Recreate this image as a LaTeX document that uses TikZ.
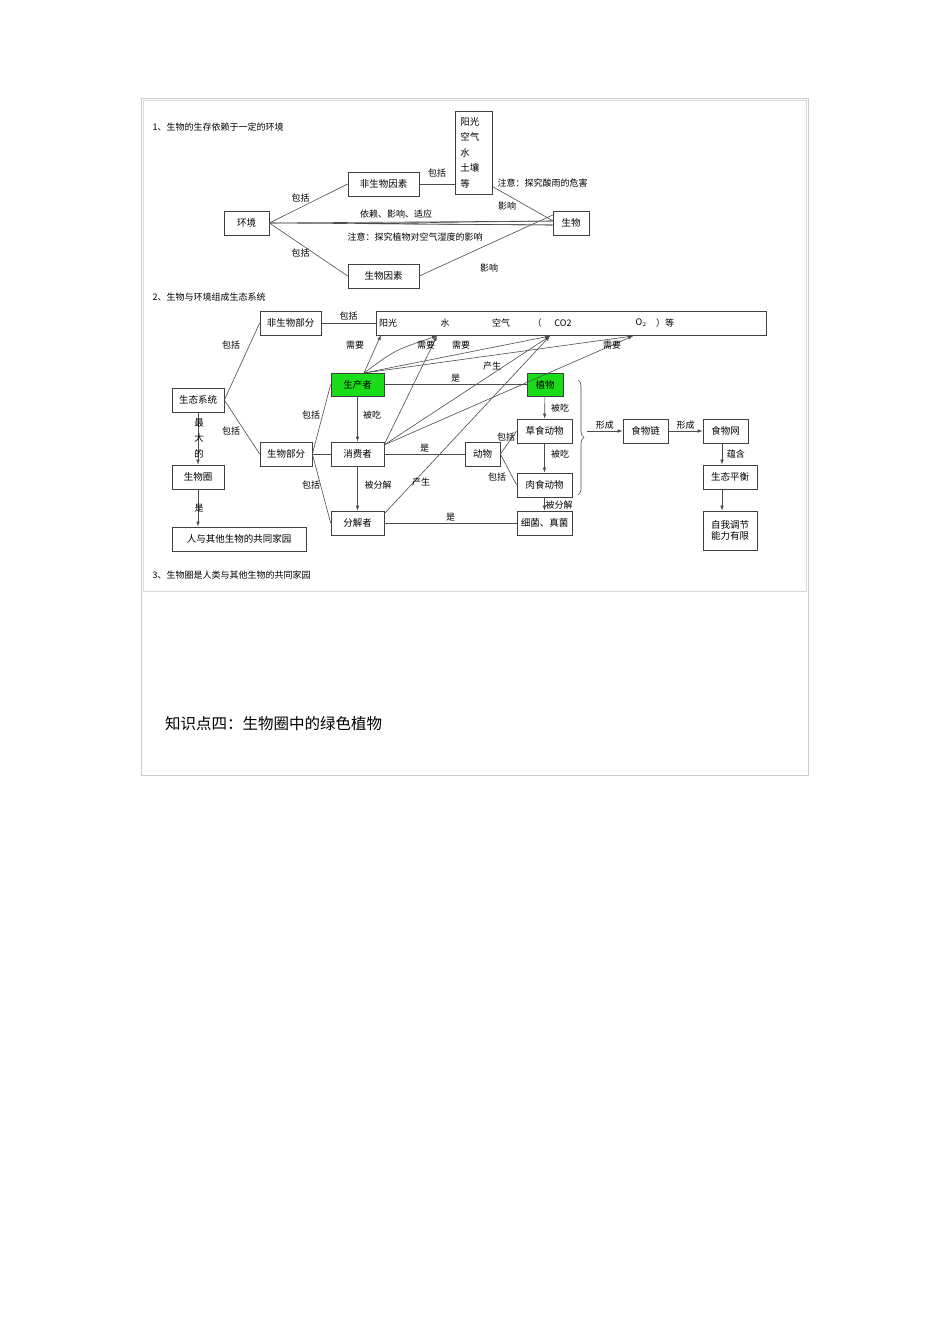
\documentclass[tikz,border=0pt]{standalone}
\usepackage{fontspec}
\setmainfont{Noto Sans CJK SC}
\usetikzlibrary{arrows.meta,decorations.pathreplacing}
\begin{document}
\begin{tikzpicture}[x=1pt,y=-1pt,
 bx/.style={draw=black!75,line width=0.7pt,fill=white,inner sep=0pt,font=\fontsize{9.5}{11}\selectfont},
 gbx/.style={bx,fill=green!85!black!90},
 lb/.style={font=\fontsize{9}{10}\selectfont,inner sep=0.5pt},
 ln/.style={draw=black!70,line width=0.6pt},
 ar/.style={ln,-{Latex[length=5pt,width=3.5pt]}}]
\useasboundingbox (0,0) rectangle (950,1344);
\fill[white] (0,0) rectangle (950,1344);
\draw[black!20,line width=0.8pt] (141,98) rectangle (808,775);
\draw[black!15,line width=0.6pt] (143,100) -- (806,100) -- (806,591) -- (143,591) -- cycle;
% section 1
\node[lb,anchor=west] (t1) at (152,127) {1、生物的生存依赖于一定的环境};
\node[bx,minimum width=37,minimum height=83,anchor=north west,align=left,text width=27,font=\fontsize{9.5}{15.5}\selectfont] (ygk) at (455,111) {阳光\\空气\\水\\土壤\\等};
\node[bx,minimum width=71,minimum height=24] (fsw) at (383.5,184) {非生物因素};
\node[bx,minimum width=45,minimum height=24] (hj) at (246.5,223) {环境};
\node[bx,minimum width=36,minimum height=24] (sw) at (571,223) {生物};
\node[bx,minimum width=71,minimum height=24] (swys) at (383.5,276) {生物因素};
\draw[ln] (hj.east) -- (fsw.west) node[lb,pos=0.4,above=4pt] (l1) {包括};
\draw[ln] (hj.east) -- (swys.west) node[lb,pos=0.4,below=4pt] (l2) {包括};
\draw[ln] (fsw.east) -- (ygk.west|-fsw.east) node[lb,midway,above=6pt] (l3) {包括};
\draw[ln] (ygk.south east) ++(0,-8) coordinate (c1) -- ([yshift=-10pt]sw.north west) coordinate (c2);
\node[lb] (l4) at (507,206) {影响};
\node[lb,anchor=west] (l5) at (497,183) {注意：探究酸雨的危害};
\draw[ln] (hj.east) -- ([yshift=-2pt]sw.west);
\draw[ln] (hj.east) -- ([yshift=2pt]sw.west);
\draw[ln] ([yshift=-2pt]sw.west) -- (355,223.5) -- ([yshift=2pt]sw.west);
\node[lb] (l6) at (396,214) {依赖、影响、适应};
\node[lb] (l7) at (415,237) {注意：探究植物对空气湿度的影响};
\draw[ln] (swys.east) -- ([yshift=8pt]sw.west);
\node[lb] (l8) at (489,268) {影响};
% section 2
\node[lb,anchor=west] (t2) at (152,297) {2、生物与环境组成生态系统};
\node[bx,minimum width=61,minimum height=24] (fswbf) at (290.5,323) {非生物部分};
\node[bx,minimum width=390,minimum height=24] (env) at (571,323) {};
\node[lb] (yg) at (388,323) {阳光};
\node[lb] (water) at (445,323) {水};
\node[lb] (air) at (501,323) {空气};
\node[lb] (kh) at (537,323) {（};
\node[lb] (co2) at (563,323) {CO2};
\node[lb] (o2) at (641,323) {O$_2$};
\node[lb] (deng) at (665,323) {）等};
\draw[ln] (fswbf.east) -- (env.west) node[lb,midway,above=2pt] {包括};
\node[bx,minimum width=52,minimum height=24] (stxt) at (198,400) {生态系统};
\node[bx,minimum width=52,minimum height=24] (swbf) at (286,454) {生物部分};
\node[bx,minimum width=52,minimum height=24] (swq) at (198,477) {生物圈};
\node[bx,minimum width=134,minimum height=24] (jy) at (239,539) {人与其他生物的共同家园};
\draw[ln] (stxt.east) -- (fswbf.west);
\node[lb] at (231,345) {包括};
\draw[ln] (stxt.east) -- (swbf.west);
\node[lb] at (231,431) {包括};
\draw[ar] (stxt) -- (swq);
\node[lb,align=center,font=\fontsize{9.5}{15.5}\selectfont] at (199,438) {最\\大\\的};
\draw[ar] (swq) -- (swq|-jy.north);
\node[lb] at (199,508) {是};
\node[gbx,minimum width=53,minimum height=23] (scz) at (357.5,384.5) {生产者};
\node[bx,minimum width=53,minimum height=24] (xfz) at (357.5,454) {消费者};
\node[bx,minimum width=53,minimum height=24] (fjz) at (357.5,523) {分解者};
\draw[ln] (swbf.east) -- (scz.west);
\draw[ln] (swbf.east) -- (xfz.west);
\draw[ln] (swbf.east) -- (fjz.west);
\node[lb] at (311,415) {包括};
\node[lb] at (311,485) {包括};
\draw[ar] (scz) -- (xfz);
\node[lb] at (372,415) {被吃};
\draw[ar] (xfz) -- (fjz);
\node[lb] at (378,485) {被分解};
\node[gbx,minimum width=36,minimum height=23] (zw) at (545,384.5) {植物};
\draw[ln] (scz) -- (zw) node[lb,midway,above=1pt] {是};
\node[bx,minimum width=55,minimum height=24] (csdw) at (544.5,431) {草食动物};
\node[bx,minimum width=35,minimum height=24] (dw) at (482.5,454) {动物};
\node[bx,minimum width=55,minimum height=24] (rsdw) at (544.5,485) {肉食动物};
\node[bx,minimum width=55,minimum height=24] (xj) at (544.5,523) {细菌、真菌};
\draw[ar] (zw) -- (csdw);
\node[lb] at (560,408) {被吃};
\draw[ar] (csdw) -- (rsdw);
\node[lb] at (560,454) {被吃};
\draw[ar] (rsdw) -- (xj);
\node[lb] at (559,505) {被分解};
\draw[ln] (xfz) -- (dw) node[lb,midway,above=1pt] {是};
\draw[ln] (dw.east) -- (csdw.west);
\draw[ln] (dw.east) -- (rsdw.west);
\node[lb] at (506,437) {包括};
\node[lb] at (497,477) {包括};
\draw[ln] (fjz) -- (xj) node[lb,midway,above=1pt] {是};
\draw[ln,decorate,decoration={brace,amplitude=6pt}] (578,380) -- (578,495);
\coordinate (btip) at (587,431);
\node[bx,minimum width=45,minimum height=24] (swl) at (645.5,431) {食物链};
\node[bx,minimum width=45,minimum height=24] (sww) at (725.5,431) {食物网};
\node[bx,minimum width=54,minimum height=24] (stph) at (730,477) {生态平衡};
\node[bx,minimum width=54,minimum height=39,align=center] (zwtj) at (730,530.5) {自我调节\\能力有限};
\draw[ar] (btip) -- (swl) node[lb,midway,above=1pt] {形成};
\draw[ar] (swl) -- (sww) node[lb,midway,above=1pt] {形成};
\draw[ar] (sww.south-|722,0) -- (stph.north-|722,0) node[lb,midway,right=4pt] {蕴含};
\draw[ar] (stph.south-|722,0) -- (zwtj.north-|722,0);
% need/produce arrows
\coordinate (p0) at (364,373);
\coordinate (q0) at (384,445);
\coordinate (d0) at (384,514);
\coordinate (aYG) at (381,335);
\coordinate (aW) at (437,336);
\coordinate (aC) at (550,336);
\coordinate (aO) at (633,336);
\draw[ar] (p0) -- (aYG);
\draw[ar] (p0) .. controls (395,350) .. (aW);
\draw[ar] (p0) -- (aC);
\draw[ar] (p0) -- (aO);
\draw[ar] (q0) -- (aW);
\draw[ar] (q0) -- (aC);
\draw[ar] (q0) -- (aO);
\draw[ar] (d0) -- (aC);
\node[lb] at (355,345) {需要};
\node[lb] at (426,345) {需要};
\node[lb] at (461,345) {需要};
\node[lb] at (612,345) {需要};
\node[lb] at (492,366) {产生};
\node[lb] at (421,482) {产生};
\node[lb,anchor=west] (t3) at (152,575) {3、生物圈是人类与其他生物的共同家园};
\node[anchor=west,font=\fontsize{15.5}{18}\selectfont,inner sep=0pt] (kp) at (165,724) {知识点四：生物圈中的绿色植物};
\end{tikzpicture}
\end{document}
